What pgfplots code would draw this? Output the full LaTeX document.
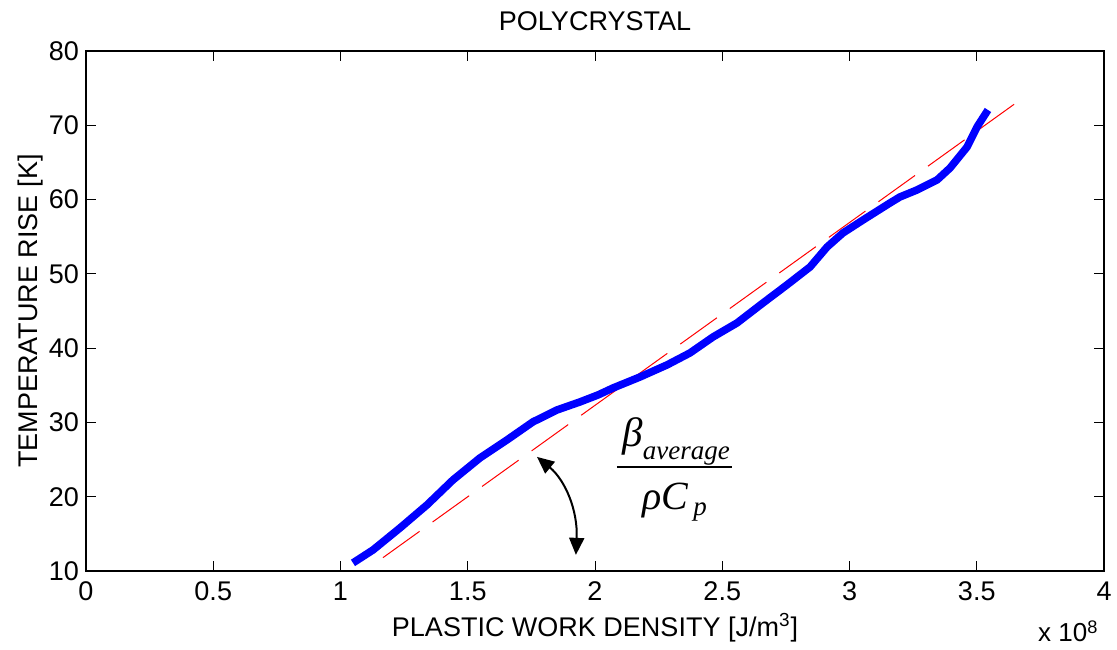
\documentclass[border=0pt]{standalone}
\usepackage{pgfplots}
\pgfplotsset{compat=1.18}
\usepackage{fontspec}
\setmainfont{Liberation Sans}
\newfontfamily\tnr{Liberation Serif}
\usetikzlibrary{arrows.meta}
\begin{document}
\begin{tikzpicture}
\begin{axis}[
  scale only axis, width=509pt, height=260pt,
  xmin=0, xmax=4, ymin=10, ymax=80,
  xtick={0,0.5,1,1.5,2,2.5,3,3.5,4},
  xticklabels={0,0.5,1,1.5,2,2.5,3,3.5,4},
  ytick={10,20,30,40,50,60,70,80},
  tick align=inside, major tick length=5pt,
  tick style={black, line width=0.5pt},
  axis line style={line width=0.6pt},
  ticklabel style={font=\fontsize{13.5}{15}\selectfont},
  xticklabel style={yshift=-2pt},
  /pgf/number format/assume math mode=true,
  title={POLYCRYSTAL},
  title style={font=\fontsize{13.5}{15}\selectfont, at={(axis description cs:0.5,1)}, anchor=base, yshift=4.5pt},
  xlabel={PLASTIC WORK DENSITY [J/m\textsuperscript{3}]},
  xlabel style={font=\fontsize{13.5}{15}\selectfont, at={(axis description cs:0.5,0)}, anchor=base, yshift=-33pt},
  ylabel={TEMPERATURE RISE [K]},
  ylabel style={font=\fontsize{13.5}{15}\selectfont, at={(axis description cs:0,0.5)}, anchor=base, yshift=24pt},
  clip=false,
]
\addplot[red, line width=0.5pt, dash pattern=on 22.5pt off 8pt] coordinates {(1.167,11.8) (3.666,73.3)};
\addplot[blue, line width=3.8pt, line join=round] coordinates {
(1.049,11.09) (1.128,12.84) (1.234,15.80) (1.340,18.90) (1.442,22.26) (1.548,25.22)
(1.654,27.64) (1.756,30.07) (1.851,31.68) (1.941,32.76) (2.012,33.70) (2.071,34.64)
(2.177,36.12) (2.283,37.74) (2.373,39.35) (2.464,41.51) (2.558,43.39) (2.660,46.08)
(2.754,48.51) (2.845,50.93) (2.912,53.62) (2.974,55.50) (3.053,57.25) (3.159,59.54)
(3.198,60.35) (3.265,61.29) (3.344,62.64) (3.395,64.25) (3.462,67.08) (3.501,69.77)
(3.544,72.06)};
\draw[line width=1pt, {Triangle[length=8.5pt,width=7.5pt]}-{Triangle[length=8.5pt,width=7.5pt]}]
  (axis cs:1.772,25.36) .. controls (axis cs:1.882,22.26) and (axis cs:1.933,18.22) .. (axis cs:1.925,12.17);
\node[anchor=base west, inner sep=0pt] at (axis cs:2.106,26.70)
  {\tnr\itshape\fontsize{20.5}{20.5}\selectfont β\raisebox{-6.5pt}{\fontsize{13.5}{13.5}\selectfont average}};
\draw[line width=0.75pt] (axis cs:2.086,24.01) -- (axis cs:2.538,24.01);
\node[anchor=base west, inner sep=0pt] at (axis cs:2.185,18.22)
  {\tnr\itshape\fontsize{20}{20}\selectfont ρC\hspace{2.5pt}\raisebox{-3pt}{\fontsize{13.5}{13.5}\selectfont p}};
\node[anchor=base, font=\fontsize{13}{15}\selectfont] at (rel axis cs:0.965,-0.1365) {x 10\textsuperscript{8}};
\end{axis}
\pgfresetboundingbox
\path[use as bounding box] ([xshift=-43pt,yshift=-39.5pt]current axis.south west) rectangle ([xshift=6.5pt,yshift=25.5pt]current axis.north east);
\end{tikzpicture}
\end{document}
